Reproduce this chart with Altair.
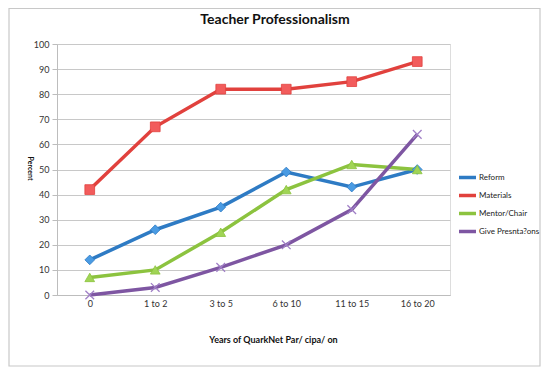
import altair as alt
import pandas as pd

categories = ["0", "1 to 2", "3 to 5", "6 to 10", "11 to 15", "16 to 20"]
series_names = ["Reform", "Materials", "Mentor/Chair", "Give Presnta?ons"]
reform = [14, 26, 35, 49, 43, 50]
materials = [42, 67, 82, 82, 85, 93]
mentor = [7, 10, 25, 42, 52, 50]
presentations = [0, 3, 11, 20, 34, 64]
chart_title = "Teacher Professionalism"

line_colors = ["#2e7bc4", "#e1413d", "#8cc33f", "#7e56a2"]
marker_colors = ["#4a9be3", "#f25c5c", "#a0d455", "#a07fc6"]
shapes = ["diamond", "square", "triangle-up", "M-1,-1L1,1M1,-1L-1,1"]

rows = []
for name, vals in zip(series_names, [reform, materials, mentor, presentations]):
    for i, (c, v) in enumerate(zip(categories, vals)):
        rows.append({"years": c, "idx": i, "series": name, "mseries": name, "percent": v})
df = pd.DataFrame(rows)

FONT = "Lato"

x = alt.X("years:N", sort=categories,
          scale=alt.Scale(type="point", padding=0.5),
          axis=alt.Axis(title="Years of QuarkNet Par/ cipa/ on", labelAngle=0,
                        labelFontSize=9, labelColor="#333333", labelPadding=4,
                        titleFontSize=9, titleFontWeight="bold", titleColor="#111111",
                        titleX=216, titleY=40, titleAnchor="middle",
                        domainColor="#bdbdbd", ticks=False,
                        grid=False, labelFont=FONT, titleFont=FONT))
y = alt.Y("percent:Q", scale=alt.Scale(domain=[0, 100]),
          axis=alt.Axis(title="Percent", values=list(range(0, 101, 10)),
                        labelFontSize=9, labelColor="#333333", labelPadding=3,
                        tickSize=5, tickColor="#bdbdbd", domainColor="#bdbdbd",
                        gridColor="#c8c8c8", gridWidth=1,
                        titleFontSize=7, titleFontWeight="bold", titleColor="#111111",
                        titleAngle=90, titleX=-31, titleY=124, titleAnchor="middle",
                        labelFont=FONT, titleFont=FONT))

one = pd.DataFrame({"t": [chart_title]})

frame = alt.Chart(one).mark_rect(
    fillOpacity=0, stroke="#c8c8c8", strokeWidth=1.2
).encode(x=alt.value(-48), x2=alt.value(483), y=alt.value(-35.5), y2=alt.value(322))

title = alt.Chart(one).mark_text(
    fontSize=14, font=FONT, fontWeight="bold", color="#111111",
    align="center", baseline="middle"
).encode(text="t:N", x=alt.value(218), y=alt.value(-24))

lines = alt.Chart(df).mark_line(strokeWidth=3.5).encode(
    x=x, y=y,
    color=alt.Color("series:N", sort=series_names,
                    scale=alt.Scale(domain=series_names, range=line_colors),
                    legend=alt.Legend(title=None, orient="none", legendX=400, legendY=123,
                                      symbolType="stroke", symbolStrokeWidth=3.5,
                                      symbolSize=289, labelFontSize=8, labelFont=FONT,
                                      labelColor="#222222", rowPadding=0, labelOffset=1,
                                      labelLimit=200)),
    order=alt.Order("idx:Q")
)

filled_pts = alt.Chart(df).transform_filter(
    alt.datum.series != series_names[3]
).mark_point(filled=True, size=95, opacity=1, strokeWidth=0.8).encode(
    x=x, y=y,
    fill=alt.Fill("mseries:N", scale=alt.Scale(domain=series_names, range=marker_colors), legend=None),
    stroke=alt.Stroke("mseries:N", scale=alt.Scale(domain=series_names, range=line_colors), legend=None),
    shape=alt.Shape("mseries:N", scale=alt.Scale(domain=series_names, range=shapes), legend=None),
)

cross_pts = alt.Chart(df).transform_filter(
    alt.datum.series == series_names[3]
).mark_point(shape=shapes[3], filled=False, size=75, strokeWidth=1.3,
             color=marker_colors[3], opacity=1).encode(x=x, y=y)

chart = alt.layer(frame, title, lines, filled_pts, cross_pts).resolve_scale(
    fill="independent", stroke="independent", shape="independent"
).resolve_legend(
    fill="independent", stroke="independent", shape="independent"
).properties(
    width=393, height=251,
    autosize=alt.AutoSizeParams(type="none"),
    padding={"left": 49, "top": 36, "right": 92, "bottom": 73},
).configure_view(stroke=None).configure(background="white")

chart.save("out.html", embed_options={"renderer": "svg", "actions": False})
